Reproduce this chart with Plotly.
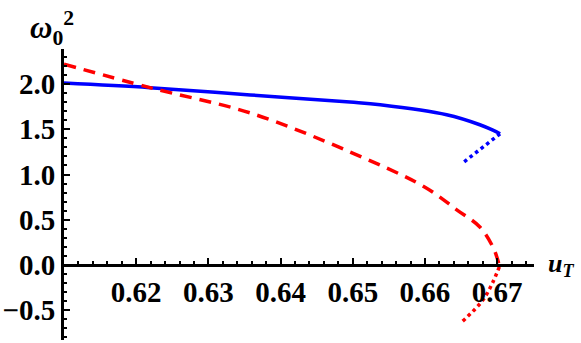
import plotly.graph_objects as go

# Data
blue_solid_u = [0.6100, 0.6219, 0.6358, 0.6496, 0.6538, 0.6630, 0.6676, 0.6694, 0.6704]
blue_solid_w = [2.01, 1.96, 1.88, 1.80, 1.77, 1.66, 1.55, 1.49, 1.45]
blue_dot_u = [0.6704, 0.6651]
blue_dot_w = [1.45, 1.12]

red_dash_u = [0.6100, 0.6219, 0.6358, 0.6496, 0.6600, 0.6644, 0.6676, 0.6694, 0.6701, 0.6703]
red_dash_w = [2.22, 1.96, 1.68, 1.25, 0.86, 0.61, 0.42, 0.20, 0.05, -0.02]
red_dot_u = [0.6703, 0.6694, 0.6680, 0.6651]
red_dot_w = [-0.02, -0.19, -0.39, -0.63]

x_ticks = [0.62, 0.63, 0.64, 0.65, 0.66, 0.67]
y_ticks = [-0.5, 0.0, 0.5, 1.0, 1.5, 2.0]
y_labels = ["\u22120.5", "0.0", "0.5", "1.0", "1.5", "2.0"]

x_range = [0.6100, 0.6751]
y_range = [-0.829, 2.387]

SERIF = "Liberation Serif"

fig = go.Figure()
fig.add_trace(go.Scatter(x=blue_solid_u, y=blue_solid_w, mode="lines",
                         line=dict(color="#0000ff", width=3.5, shape="spline")))
fig.add_trace(go.Scatter(x=blue_dot_u, y=blue_dot_w, mode="lines",
                         line=dict(color="#0000ff", width=3.5, dash="dot")))
fig.add_trace(go.Scatter(x=red_dash_u, y=red_dash_w, mode="lines",
                         line=dict(color="#ff0000", width=3.5, dash="12px,8px", shape="spline")))
fig.add_trace(go.Scatter(x=red_dot_u, y=red_dot_w, mode="lines",
                         line=dict(color="#ff0000", width=3.5, dash="dot", shape="spline")))

pos = -y_range[0] / (y_range[1] - y_range[0])
tickfont = dict(family=SERIF, size=29, color="black")

fig.update_layout(
    template="none",
    width=581, height=343,
    font=dict(family=SERIF, size=20, color="black"),
    margin=dict(l=64, r=47, t=49, b=3, autoexpand=False),
    plot_bgcolor="white", paper_bgcolor="white",
    showlegend=False,
)
fig.update_xaxes(range=x_range, tickvals=x_ticks, ticktext=[f"<b>{v:.2f}</b>" for v in x_ticks],
                 showgrid=False, zeroline=False, showline=True, linecolor="black", linewidth=3,
                 ticks="inside", ticklen=6, tickwidth=2, tickcolor="black",
                 minor=dict(ticks="inside", ticklen=3, tickwidth=1.5, tickcolor="black", dtick=0.002),
                 anchor="free", position=pos, automargin=False, tickfont=tickfont)
fig.update_yaxes(range=y_range, tickvals=y_ticks, ticktext=[f"<b>{t}</b>" for t in y_labels],
                 showgrid=False, zeroline=False, showline=True, linecolor="black", linewidth=3,
                 ticks="inside", ticklen=6, tickwidth=2, tickcolor="black",
                 minor=dict(ticks="inside", ticklen=3, tickwidth=1.5, tickcolor="black", dtick=0.1),
                 automargin=False, tickfont=tickfont)

fig.add_annotation(text="<b><i>ω</i><sub>0</sub><sup>2</sup></b>", xref="paper", yref="paper",
                   x=-0.077, y=1.0, yshift=-3, xanchor="left", yanchor="bottom", showarrow=False,
                   font=dict(family=SERIF, size=31, color="black"))
fig.add_annotation(text="<b><i>u</i><sub><i>T</i></sub></b>", xref="paper", yref="paper",
                   x=1.0, y=pos, xshift=12, xanchor="left", yanchor="middle", showarrow=False,
                   font=dict(family=SERIF, size=26, color="black"))

fig.write_html("out.html", config={"displayModeBar": False},
               post_script="document.body.style.margin='0';")
